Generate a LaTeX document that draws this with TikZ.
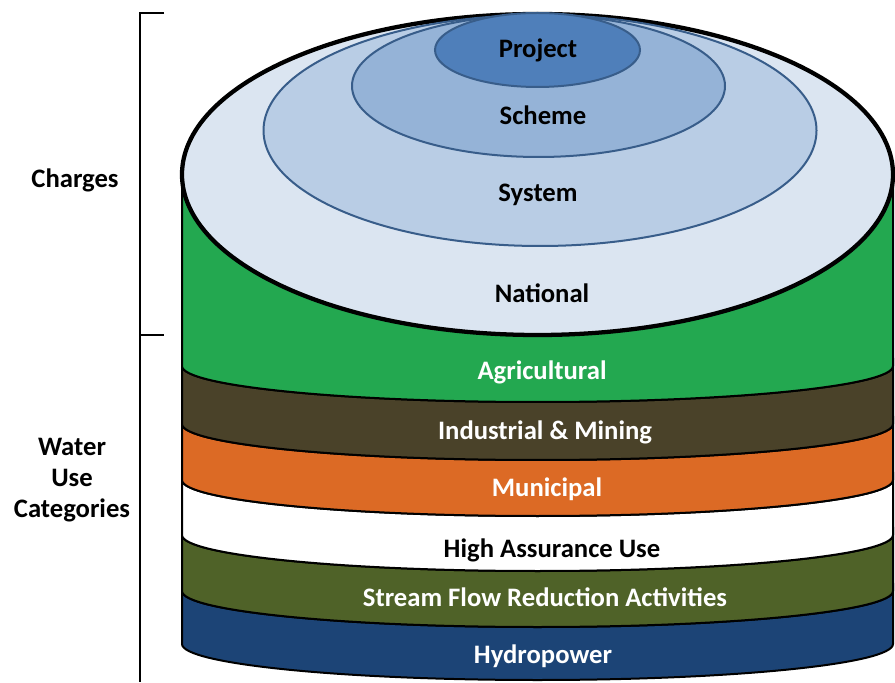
\documentclass[tikz,border=0pt]{standalone}
\usepackage{fontspec}
\setmainfont{Carlito}

\definecolor{natfill}{HTML}{DBE5F1}
\definecolor{sysfill}{HTML}{B9CDE5}
\definecolor{schfill}{HTML}{95B3D7}
\definecolor{projfill}{HTML}{4F7FBA}
\definecolor{ringline}{HTML}{385D8A}
\definecolor{agrifill}{HTML}{23A850}
\definecolor{indfill}{HTML}{4A4229}
\definecolor{munfill}{HTML}{DC6A25}
\definecolor{sfrfill}{HTML}{4F6228}
\definecolor{hydrofill}{HTML}{1C4476}

\tikzset{
    % Cylinder styles
    band/.style={line width=1.5pt, draw=black},
    top disc/.style={line width=3.2pt, draw=black, fill=natfill},
    ring/.style={line width=1.5pt, draw=ringline},
    % Label styles
    lbl/.style={font=\fontsize{20}{23.3}\selectfont\bfseries, inner sep=0pt},
    lbl white/.style={lbl, text=white},
    side label/.style={lbl, align=center},
    % Bracket on the left
    bracket/.style={line width=1.5pt, black},
}

% one layer of the cylinder side: fill colour, top and bottom of its left edge
\newcommand{\layer}[3]{%
    \filldraw[band, fill=#1] (182,#2) -- (182,#3)
        arc[start angle=180, end angle=360, x radius=355.5, y radius=36]
        -- (893,#2)
        arc[start angle=0, end angle=-180, x radius=355.5, y radius=36] -- cycle;}

\begin{document}
\begin{tikzpicture}[x=0.75pt, y=0.75pt]
    \useasboundingbox (0,0) rectangle (895,682);

    % Layers of the cylinder, bottom up
    \layer{hydrofill}{91}{38}
    \layer{sfrfill}{147}{91}
    \layer{white}{202}{147}
    \layer{munfill}{258}{202}
    \layer{indfill}{316}{258}
    \filldraw[band, fill=agrifill] (182,507.5) -- (182,316)
        arc[start angle=180, end angle=360, x radius=355.5, y radius=36]
        -- (893,507.5) -- cycle;

    % Top of the cylinder
    \draw[top disc] (537.5,507.5) ellipse[x radius=355.5, y radius=160.5];
    \filldraw[ring, fill=sysfill] (540,551.5) ellipse[x radius=276.5, y radius=115.5];
    \filldraw[ring, fill=schfill] (538.5,596) ellipse[x radius=186.5, y radius=71];
    \filldraw[ring, fill=projfill] (537.5,632) ellipse[x radius=102.5, y radius=37];

    % Charge levels
    \node[lbl] (project) at (538,632) {Project};
    \node[lbl] (scheme) at (543,567) {Scheme};
    \node[lbl] (system) at (538,487) {System};
    \node[lbl] (national) at (542,389) {National};

    % Water use categories
    \node[lbl white] (agri) at (542,310) {Agricultural};
    \node[lbl white] (industrial) at (545,250) {Industrial \& Mining};
    \node[lbl white] (municipal) at (547,193) {Municipal};
    \node[lbl] (assurance) at (552,132) {High Assurance Use};
    \node[lbl white] (streamflow) at (545,85) {Stream Flow Reduction Activities};
    \node[lbl white] (hydro) at (543,26) {Hydropower};

    % Bracket and its labels
    \draw[bracket] (164,669) -- (140,669) -- (140,0);
    \draw[bracket] (140,347) -- (164,347);
    \node[side label] (charges) at (75,502) {Charges};
    \node[side label] (wateruse) at (72,202) {Water\\Use\\Categories};
\end{tikzpicture}
\end{document}
